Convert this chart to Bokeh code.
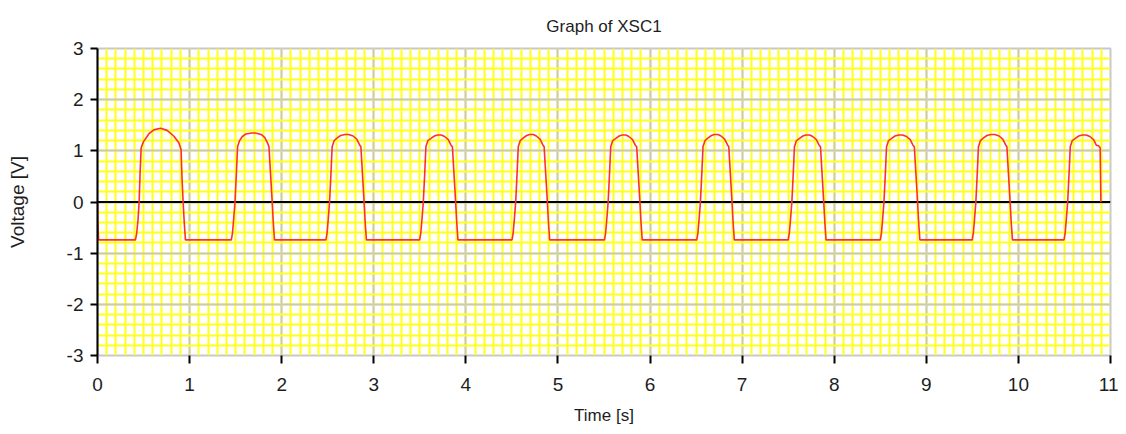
from bokeh.plotting import figure
from bokeh.models import SingleIntervalTicker, Span, Range1d, PrintfTickFormatter
from bokeh.embed import file_html
from bokeh.resources import INLINE

# ---------------- data ----------------
title_text = "Graph of XSC1"
x_label = "Time [s]"
y_label = "Voltage [V]"

start_t = [0.000, 0.003, 0.012]
start_v = [0.00, -0.38, -0.74]

p1_t = [0.412, 0.425, 0.440, 0.452, 0.462, 0.474, 0.500, 0.557, 0.611, 0.684, 0.756, 0.828, 0.883, 0.907, 0.919, 0.930, 0.942, 0.955]
p1_v = [-0.74, -0.62, -0.35, 0.00, 0.55, 1.06, 1.18, 1.33, 1.41, 1.44, 1.40, 1.29, 1.16, 1.03, 0.41, 0.00, -0.40, -0.74]

p2_t = [1.453, 1.465, 1.478, 1.493, 1.508, 1.521, 1.543, 1.573, 1.613, 1.675, 1.715, 1.777, 1.817, 1.847, 1.862, 1.879, 1.897, 1.909, 1.922]
p2_v = [-0.74, -0.62, -0.35, 0.00, 0.55, 1.08, 1.20, 1.28, 1.33, 1.35, 1.35, 1.32, 1.26, 1.15, 1.08, 0.55, 0.00, -0.40, -0.74]

p3_t = [2.480, 2.492, 2.505, 2.520, 2.535, 2.548, 2.570, 2.600, 2.640, 2.687, 2.727, 2.775, 2.815, 2.845, 2.860, 2.877, 2.895, 2.907, 2.920]
p3_v = [-0.74, -0.62, -0.35, 0.00, 0.55, 1.08, 1.20, 1.25, 1.30, 1.32, 1.32, 1.29, 1.23, 1.12, 1.08, 0.55, 0.00, -0.40, -0.74]

p4_t = [3.498, 3.510, 3.523, 3.538, 3.553, 3.566, 3.588, 3.618, 3.658, 3.693, 3.733, 3.769, 3.809, 3.839, 3.854, 3.871, 3.889, 3.901, 3.914]
p4_v = [-0.74, -0.62, -0.35, 0.00, 0.55, 1.08, 1.20, 1.24, 1.29, 1.31, 1.31, 1.28, 1.22, 1.11, 1.08, 0.55, 0.00, -0.40, -0.74]

p5_t = [4.501, 4.513, 4.526, 4.541, 4.556, 4.569, 4.591, 4.621, 4.661, 4.693, 4.733, 4.765, 4.805, 4.835, 4.850, 4.867, 4.885, 4.897, 4.910]
p5_v = [-0.74, -0.62, -0.35, 0.00, 0.55, 1.08, 1.20, 1.25, 1.30, 1.32, 1.32, 1.29, 1.23, 1.12, 1.08, 0.55, 0.00, -0.40, -0.74]

p6_t = [5.505, 5.517, 5.530, 5.545, 5.560, 5.573, 5.595, 5.625, 5.665, 5.697, 5.737, 5.770, 5.810, 5.840, 5.855, 5.872, 5.890, 5.902, 5.915]
p6_v = [-0.74, -0.62, -0.35, 0.00, 0.55, 1.08, 1.20, 1.24, 1.29, 1.31, 1.31, 1.28, 1.22, 1.11, 1.08, 0.55, 0.00, -0.40, -0.74]

p7_t = [6.507, 6.519, 6.532, 6.547, 6.562, 6.575, 6.597, 6.627, 6.667, 6.698, 6.738, 6.770, 6.810, 6.840, 6.855, 6.872, 6.890, 6.902, 6.915]
p7_v = [-0.74, -0.62, -0.35, 0.00, 0.55, 1.08, 1.20, 1.25, 1.30, 1.32, 1.32, 1.29, 1.23, 1.12, 1.08, 0.55, 0.00, -0.40, -0.74]

p8_t = [7.500, 7.512, 7.525, 7.540, 7.555, 7.568, 7.590, 7.620, 7.660, 7.693, 7.733, 7.766, 7.806, 7.836, 7.851, 7.868, 7.886, 7.898, 7.911]
p8_v = [-0.74, -0.62, -0.35, 0.00, 0.55, 1.08, 1.20, 1.24, 1.29, 1.31, 1.31, 1.28, 1.22, 1.11, 1.08, 0.55, 0.00, -0.40, -0.74]

p9_t = [8.500, 8.512, 8.525, 8.540, 8.555, 8.568, 8.590, 8.620, 8.660, 8.702, 8.742, 8.785, 8.825, 8.855, 8.870, 8.887, 8.905, 8.917, 8.930]
p9_v = [-0.74, -0.62, -0.35, 0.00, 0.55, 1.08, 1.20, 1.24, 1.29, 1.31, 1.31, 1.28, 1.22, 1.11, 1.08, 0.55, 0.00, -0.40, -0.74]

p10_t = [9.498, 9.510, 9.523, 9.538, 9.553, 9.566, 9.588, 9.618, 9.658, 9.704, 9.744, 9.790, 9.830, 9.860, 9.875, 9.892, 9.910, 9.922, 9.935]
p10_v = [-0.74, -0.62, -0.35, 0.00, 0.55, 1.08, 1.20, 1.25, 1.30, 1.32, 1.32, 1.29, 1.23, 1.12, 1.08, 0.55, 0.00, -0.40, -0.74]

p11_t = [10.495, 10.507, 10.520, 10.535, 10.550, 10.563, 10.585, 10.615, 10.655, 10.696, 10.736, 10.776, 10.816, 10.846, 10.870, 10.888, 10.892, 10.896]
p11_v = [-0.74, -0.62, -0.35, 0.00, 0.55, 1.08, 1.20, 1.24, 1.29, 1.31, 1.31, 1.28, 1.22, 1.11, 1.10, 1.06, 0.51, 0.00]

# ---------------- assemble trace ----------------
t_all = start_t + p1_t + p2_t + p3_t + p4_t + p5_t + p6_t + p7_t + p8_t + p9_t + p10_t + p11_t
v_all = start_v + p1_v + p2_v + p3_v + p4_v + p5_v + p6_v + p7_v + p8_v + p9_v + p10_v + p11_v

FONT = "Liberation Sans"
TXT = "#1e1e1e"
GRAY = "#c8c8c8"
YELLOW = "#ffff1e"

p = figure(frame_width=1013, frame_height=307, output_backend="svg", toolbar_location=None,
           x_range=Range1d(0, 11), y_range=Range1d(-3, 3),
           min_border_left=97, min_border_right=8, min_border_top=48, min_border_bottom=8,
           background_fill_color="white", border_fill_color="white")

p.title.text = title_text
p.title.align = "center"
p.title.text_font = FONT
p.title.text_font_size = "17px"
p.title.text_font_style = "normal"
p.title.text_color = TXT
p.title.standoff = 26

p.outline_line_color = GRAY
p.outline_line_width = 2

p.xaxis.ticker = SingleIntervalTicker(interval=1, num_minor_ticks=10)
p.yaxis.ticker = SingleIntervalTicker(interval=1, num_minor_ticks=5)
p.xaxis.formatter = PrintfTickFormatter(format="%d")
p.yaxis.formatter = PrintfTickFormatter(format="%d")

for g in (p.xgrid, p.ygrid):
    g.grid_line_color = GRAY
    g.grid_line_width = 2
    g.minor_grid_line_color = YELLOW
    g.minor_grid_line_width = 2

for ax in (p.xaxis, p.yaxis):
    ax.major_tick_line_color = "black"
    ax.major_tick_line_width = 2
    ax.major_tick_in = 0
    ax.minor_tick_line_color = None
    ax.major_label_text_font = FONT
    ax.major_label_text_font_size = "19px"
    ax.major_label_text_color = TXT
    ax.axis_label_text_font = FONT
    ax.axis_label_text_font_style = "normal"
    ax.axis_label_text_color = TXT

p.xaxis.axis_line_color = None
p.xaxis.major_tick_out = 8
p.xaxis.major_label_standoff = 14
p.xaxis.axis_label = x_label
p.xaxis.axis_label_text_font_size = "17px"
p.xaxis.axis_label_standoff = 12

p.yaxis.axis_line_color = "black"
p.yaxis.axis_line_width = 2
p.yaxis.major_tick_out = 7
p.yaxis.major_label_standoff = 7
p.yaxis.axis_label = y_label
p.yaxis.axis_label_text_font_size = "19px"
p.yaxis.axis_label_standoff = 36

zero = Span(location=0, dimension="width", line_color="black", line_width=2, level="underlay")
p.add_layout(zero)

p.line(t_all, v_all, line_color="#ff2e2e", line_width=1.6)

open("out.html", "w").write(file_html(p, INLINE))
